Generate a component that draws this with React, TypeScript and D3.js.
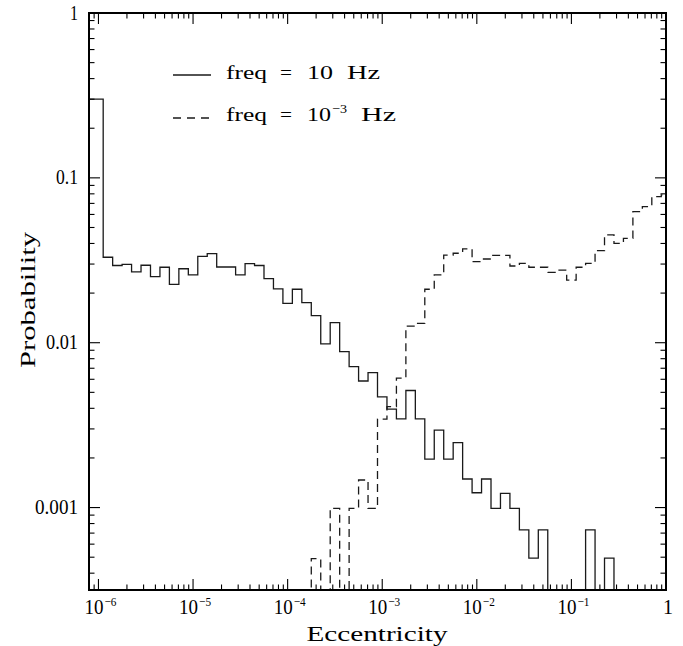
import React from "react";
import * as d3 from "d3";

// log10 of eccentricity at each histogram bin centre (bin width 0.1 dex)
const binLogCenters = [
  -6.0, -5.9, -5.8, -5.7, -5.6, -5.5, -5.4, -5.3, -5.2, -5.1,
  -5.0, -4.9, -4.8, -4.7, -4.6, -4.5, -4.4, -4.3, -4.2, -4.1,
  -4.0, -3.9, -3.8, -3.7, -3.6, -3.5, -3.4, -3.3, -3.2, -3.1,
  -3.0, -2.9, -2.8, -2.7, -2.6, -2.5, -2.4, -2.3, -2.2, -2.1,
  -2.0, -1.9, -1.8, -1.7, -1.6, -1.5, -1.4, -1.3, -1.2, -1.1,
  -1.0, -0.9, -0.8, -0.7, -0.6, -0.5, -0.4, -0.3, -0.2, -0.1,
  0.0,
];

// freq = 10 Hz (solid)
const prob10Hz = [
  0.30, 0.033, 0.0294, 0.0299, 0.0269, 0.0295, 0.0252, 0.0287, 0.0226, 0.0281,
  0.0258, 0.0334, 0.0347, 0.0288, 0.0288, 0.0258, 0.0302, 0.0294, 0.0245, 0.0212,
  0.0173, 0.0211, 0.0175, 0.0146, 0.00984, 0.01324, 0.00883, 0.00716, 0.00586, 0.00659,
  0.00469, 0.00395, 0.00345, 0.00513, 0.00345, 0.00197, 0.00295, 0.00197, 0.00248, 0.00149,
  0.00123, 0.00149, 0.00099, 0.00122, 0.00099, 0.000732, 0.000493, 0.000732, 0, 0,
  0, 0, 0.000732, 0, 0.000493, 0, 0, 0, 0, 0,
  0,
];

// freq = 1e-3 Hz (dashed)
const prob1mHz = [
  0, 0, 0, 0, 0, 0, 0, 0, 0, 0,
  0, 0, 0, 0, 0, 0, 0, 0, 0, 0,
  0, 0, 0, 0.00049, 0, 0.00099, 0, 0.00099, 0.00147, 0.00099,
  0.00344, 0.0041, 0.0061, 0.0126, 0.0131, 0.0211, 0.0258, 0.034, 0.0349, 0.0371,
  0.031, 0.0322, 0.0339, 0.0339, 0.0292, 0.0303, 0.0287, 0.0287, 0.0267, 0.0276,
  0.024, 0.0287, 0.0303, 0.0362, 0.0451, 0.0401, 0.043, 0.0624, 0.067, 0.0769,
  0.0788,
];

const xDecadeTicks = [-6, -5, -4, -3, -2, -1, 0];
const yTickValues = [1, 0.1, 0.01, 0.001];
const yTickLabels = ["1", "0.1", "0.01", "0.001"];

const W = 683;
const H = 646;
const left = 89;
const right = 666;
const top = 13;
const bottom = 590;
const FONT = "'Liberation Serif', 'DejaVu Serif', serif";

export default function App() {
  const x = d3.scaleLog().domain([Math.pow(10, -6.1), 1]).range([left, right]);
  const y = d3.scaleLog().domain([Math.pow(10, -3.5), 1]).range([bottom, top]);
  const [xmin, xmax] = x.domain();

  const stepPath = (vals: number[]) => {
    const pts: [number, number][] = [];
    binLogCenters.forEach((c, i) => {
      const lo = i === 0 ? xmin : Math.pow(10, c - 0.05);
      const hi = Math.min(Math.pow(10, c + 0.05), xmax);
      const v = vals[i] > 0 ? vals[i] : 1e-6;
      pts.push([x(lo), y(v)]);
      pts.push([x(hi), y(v)]);
    });
    return d3.line()(pts) || "";
  };

  const xt = x.ticks();
  const yt = y.ticks();
  const isMajor = (v: number) => Math.abs(Math.log10(v) - Math.round(Math.log10(v))) < 1e-6;
  const MAJ = 11;
  const MIN = 5.5;

  return (
    <svg width={W} height={H} style={{ position: "absolute", left: 0, top: 0, background: "#fff" }}>
      <defs>
        <clipPath id="plotclip">
          <rect x={left} y={top} width={right - left} height={bottom - top} />
        </clipPath>
      </defs>
      <g clipPath="url(#plotclip)" fill="none" stroke="#1a1a1a" strokeWidth={1.3}>
        <path d={stepPath(prob10Hz)} />
        <path d={stepPath(prob1mHz)} strokeDasharray="8,5" />
      </g>

      {/* ticks */}
      <g stroke="#000" strokeWidth={1.1}>
        {xt.map((t, i) => {
          const px = x(t);
          if (px < left + 0.5 || px > right - 0.5) return null;
          const L = isMajor(t) ? MAJ : MIN;
          return (
            <g key={"xt" + i}>
              <line x1={px} x2={px} y1={bottom} y2={bottom - L} />
              <line x1={px} x2={px} y1={top} y2={top + L} />
            </g>
          );
        })}
        {yt.map((t, i) => {
          const py = y(t);
          if (py < top + 0.5 || py > bottom - 0.5) return null;
          const L = isMajor(t) ? MAJ : MIN;
          return (
            <g key={"yt" + i}>
              <line x1={left} x2={left + L} y1={py} y2={py} />
              <line x1={right} x2={right - L} y1={py} y2={py} />
            </g>
          );
        })}
      </g>
      <rect x={left} y={top} width={right - left} height={bottom - top} fill="none" stroke="#000" strokeWidth={2} />

      {/* x tick labels */}
      <g fontFamily={FONT} fill="#000">
        {xDecadeTicks.map((d) => {
          const px = x(Math.pow(10, d));
          if (d === 0) {
            return (
              <text key={"xl" + d} x={px + 2} y={614} fontSize={20} textAnchor="middle">1</text>
            );
          }
          return (
            <g key={"xl" + d}>
              <text x={px - 14} y={614} fontSize={20} textLength={19} lengthAdjust="spacingAndGlyphs">10</text>
              <text x={px + 6} y={606} fontSize={13} textLength={12} lengthAdjust="spacingAndGlyphs">
                {"\u2212" + Math.abs(d)}
              </text>
            </g>
          );
        })}
        {yTickValues.map((v, i) => (
          <text key={"yl" + i} x={78} y={y(v) + 6.5} fontSize={20} textAnchor="end"
            textLength={[8, 22, 32, 43][i]} lengthAdjust="spacingAndGlyphs">
            {yTickLabels[i]}
          </text>
        ))}
        <text x={377} y={641} fontSize={21} textAnchor="middle" textLength={141} lengthAdjust="spacingAndGlyphs">
          Eccentricity
        </text>
        <text transform="translate(35,300) rotate(-90)" fontSize={21} textAnchor="middle"
          textLength={136} lengthAdjust="spacingAndGlyphs">
          Probability
        </text>
      </g>

      {/* legend */}
      <g fontFamily={FONT} fill="#000" fontSize={19}>
        <line x1={173} x2={211} y1={75} y2={75} stroke="#1a1a1a" strokeWidth={1.3} />
        <text x={226} y={79} textLength={41} lengthAdjust="spacingAndGlyphs">freq</text>
        <text x={280} y={79} textLength={12} lengthAdjust="spacingAndGlyphs">=</text>
        <text x={307} y={79} textLength={26} lengthAdjust="spacingAndGlyphs">10</text>
        <text x={347} y={79} textLength={33} lengthAdjust="spacingAndGlyphs">Hz</text>

        <line x1={173} x2={213} y1={118} y2={118} stroke="#1a1a1a" strokeWidth={1.3} strokeDasharray="8,6" />
        <text x={226} y={121} textLength={41} lengthAdjust="spacingAndGlyphs">freq</text>
        <text x={280} y={121} textLength={12} lengthAdjust="spacingAndGlyphs">=</text>
        <text x={307} y={121} textLength={24} lengthAdjust="spacingAndGlyphs">10</text>
        <text x={332} y={113} fontSize={13} textLength={15} lengthAdjust="spacingAndGlyphs">{"\u22123"}</text>
        <text x={361} y={121} textLength={35} lengthAdjust="spacingAndGlyphs">Hz</text>
      </g>
    </svg>
  );
}
